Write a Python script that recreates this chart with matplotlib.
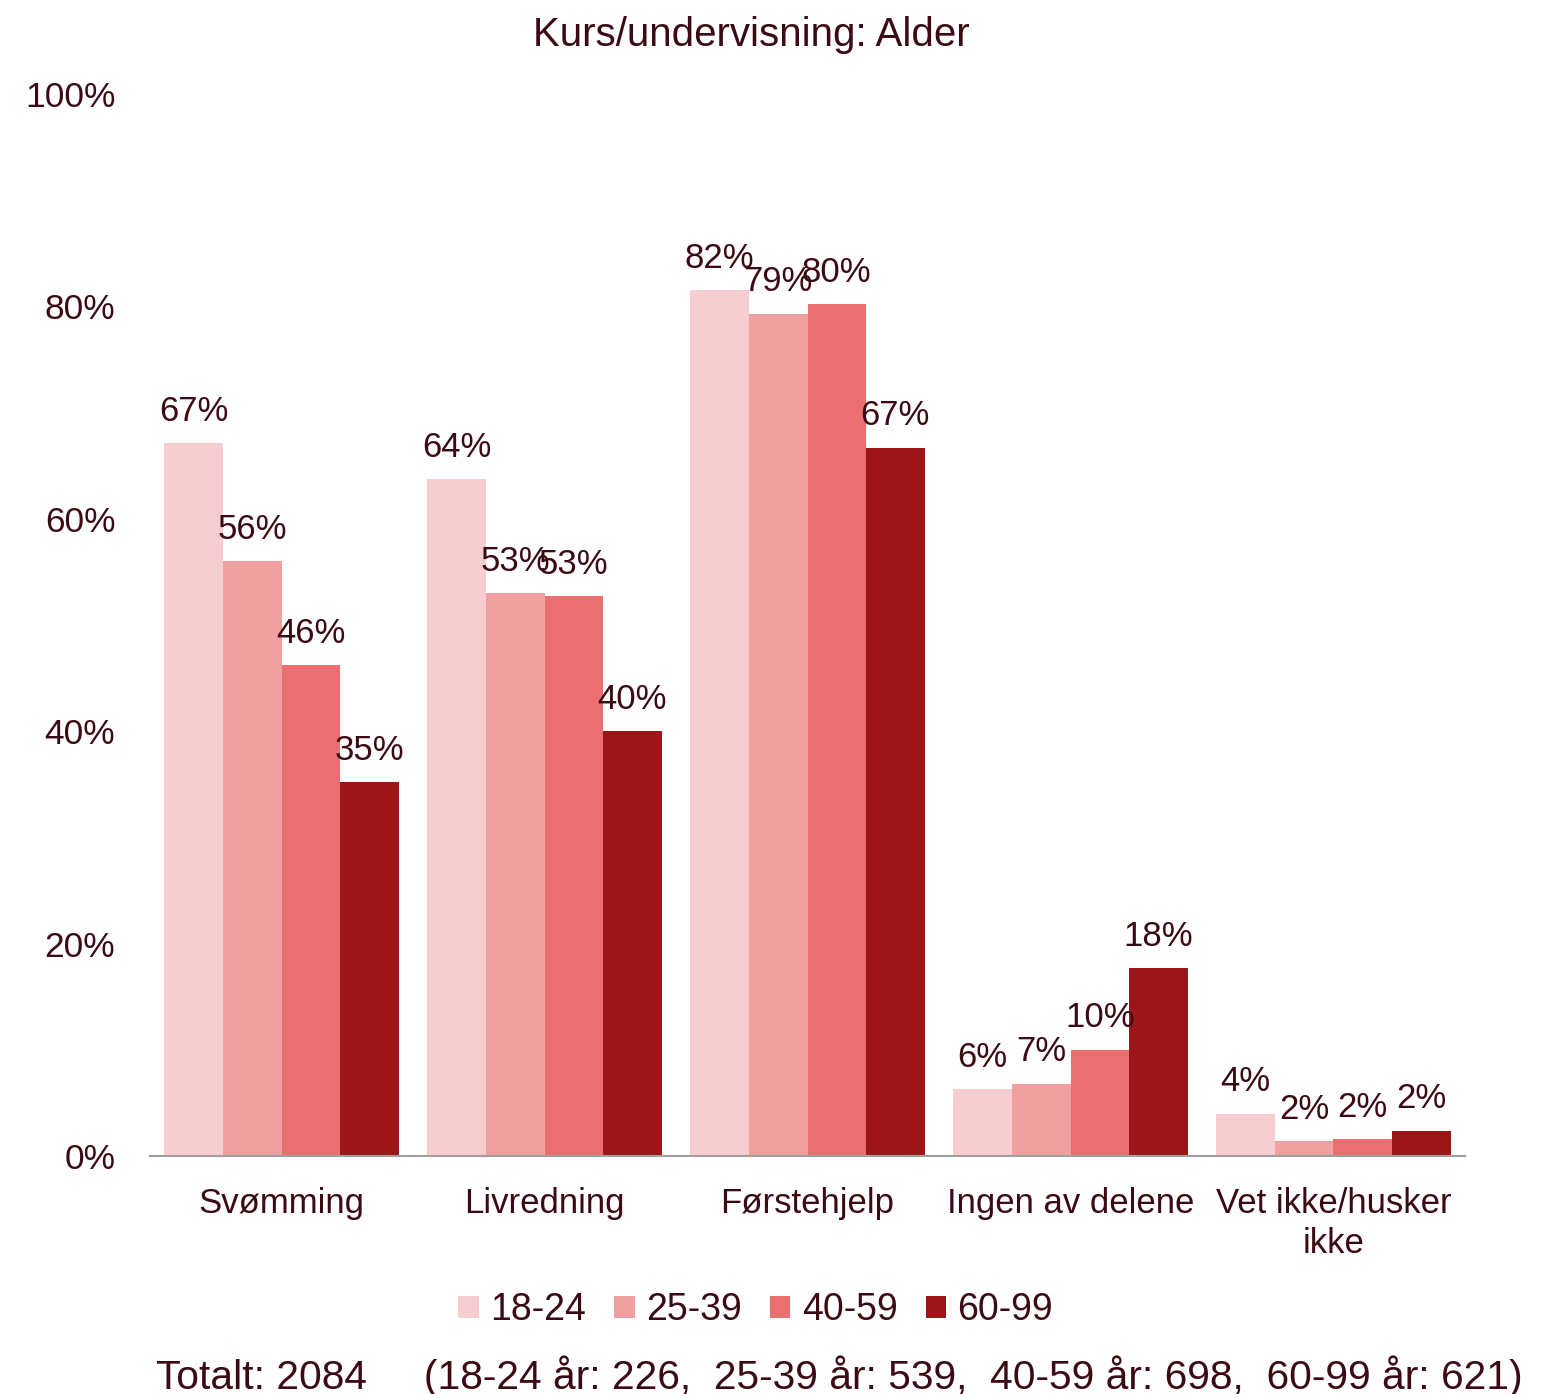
"""Kurs/undervisning by age group, grouped bar chart."""

import numpy as np
from matplotlib import pyplot as plt

categories = ["Svømming", "Livredning", "Førstehjelp", "Ingen av delene", "Vet ikke/husker\nikke"]
groups = ["18-24", "25-39", "40-59", "60-99"]
values = {
    "18-24": [67.1, 63.7, 81.5, 6.3, 4.0],
    "25-39": [56.0, 53.0, 79.3, 6.8, 1.4],
    "40-59": [46.2, 52.7, 80.2, 10.0, 1.6],
    "60-99": [35.2, 40.0, 66.7, 17.7, 2.4],
}
labels = {
    "18-24": ["67%", "64%", "82%", "6%", "4%"],
    "25-39": ["56%", "53%", "79%", "7%", "2%"],
    "40-59": ["46%", "53%", "80%", "10%", "2%"],
    "60-99": ["35%", "40%", "67%", "18%", "2%"],
}
colors = ["#f6cdd0", "#f0a0a1", "#eb6e70", "#9c1619"]
yticks = [0, 20, 40, 60, 80, 100]
footer = "Totalt: 2084     (18-24 år: 226,  25-39 år: 539,  40-59 år: 698,  60-99 år: 621)"

text_color = "#3b0a14"
plt.rcParams["font.family"] = ["Liberation Sans", "DejaVu Sans"]

fig = plt.figure(figsize=(15.58, 13.94), dpi=100)
ax = fig.add_axes([0.0963, 0.1707, 0.844, 0.7619])

x = np.arange(len(categories))
width = 0.2225
for i, (group, color) in enumerate(zip(groups, colors)):
    pos = x + (i - 1.5) * width
    bars = ax.bar(pos, values[group], width, color=color, label=group)
    for b, lab in zip(bars, labels[group]):
        ax.annotate(
            lab,
            (b.get_x() + b.get_width() / 2, b.get_height()),
            xytext=(0, 23),
            textcoords="offset points",
            ha="center",
            va="center",
            fontsize=25,
            color=text_color,
        )

ax.set_xlim(-0.5, len(categories) - 0.5)
ax.set_ylim(0, 100)
ax.set_yticks(yticks)
ax.set_yticklabels([f"{t}%" for t in yticks], fontsize=25.5, color=text_color)
ax.set_xticks(x)
ax.set_xticklabels(categories, fontsize=25, color=text_color, linespacing=1.3)
ax.tick_params(length=0, axis="y", pad=25)
ax.tick_params(length=0, axis="x", pad=22)
for side in ["top", "right", "left"]:
    ax.spines[side].set_visible(False)
ax.spines["bottom"].set_color("#a0a0a0")
ax.spines["bottom"].set_linewidth(1.5)

fig.text(0.482, 0.975, "Kurs/undervisning: Alder", ha="center", va="center",
         fontsize=29, color=text_color)

fig.legend(
    loc="center",
    bbox_to_anchor=(0.485, 0.06),
    ncol=4,
    frameon=False,
    fontsize=27,
    handlelength=0.55,
    handleheight=0.55,
    handletextpad=0.3,
    columnspacing=0.75,
    labelcolor=text_color,
)

fig.text(0.1, 0.013, footer, ha="left", va="center", fontsize=29.3, color=text_color)

fig.savefig("out.png", dpi=100)
